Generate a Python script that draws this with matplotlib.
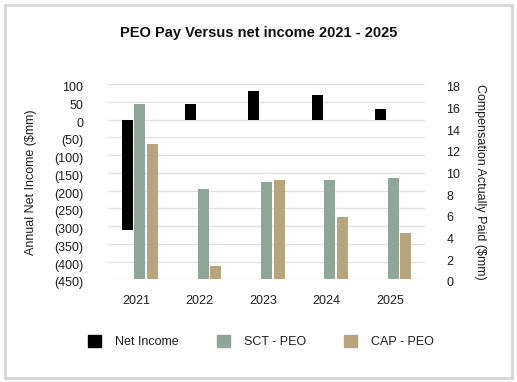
import matplotlib
matplotlib.use("Agg")
import matplotlib.pyplot as plt
import matplotlib.patches as mpatches
from matplotlib.transforms import ScaledTranslation
import numpy as np

plt.rcParams['font.family'] = ['Liberation Sans', 'DejaVu Sans']

years = ["2021", "2022", "2023", "2024", "2025"]
net_income = [-310, 44, 80, 69, 30]
sct_peo = [16.15, 8.3, 9.0, 9.2, 9.35]
cap_peo = [12.5, 1.2, 9.2, 5.75, 4.3]

left_ticks = [100, 50, 0, -50, -100, -150, -200, -250, -300, -350, -400, -450]
left_labels = ["100", "50", "0", "(50)", "(100)", "(150)", "(200)", "(250)",
               "(300)", "(350)", "(400)", "(450)"]
right_ticks = [0, 2, 4, 6, 8, 10, 12, 14, 16, 18]

c_ni = "#000000"
c_sct = "#8fa69b"
c_cap = "#b8a47d"
txt = "#1e1e1e"

fig = plt.figure(figsize=(5.17, 3.82), dpi=100)
ax = fig.add_axes([0.2089, 0.2688, 0.822 - 0.2089, 0.7793 - 0.2688])
ax2 = ax.twinx()

x = np.arange(len(years))
w = 0.173
off = 0.2
ax.bar(x - off, net_income, width=w, color=c_ni, zorder=3)
ax2.bar(x, sct_peo, width=w, color=c_sct, zorder=3)
ax2.bar(x + off, cap_peo, width=w, color=c_cap, zorder=3)

ax.set_xlim(-0.5, 4.5)
ax.set_ylim(-450, 100)
ax2.set_ylim(0, 18)

ax.set_yticks(left_ticks)
ax.set_yticklabels(left_labels)
ax2.set_yticks(right_ticks)
ax2.set_yticklabels([str(t) for t in right_ticks])
ax.set_xticks(x - 0.052)
ax.set_xticklabels(years)

ax.grid(axis='y', color='#e2e2e2', linewidth=1.0)
ax.set_axisbelow(True)
for a in (ax, ax2):
    for s in a.spines.values():
        s.set_visible(False)

ax.tick_params(axis='y', length=0, pad=18, labelsize=9, labelcolor=txt)
ax2.tick_params(axis='y', length=0, pad=15.5, labelsize=9, labelcolor=txt)
ax.tick_params(axis='x', length=0, pad=11, labelsize=9, labelcolor=txt)

offset = ScaledTranslation(0, -0.025, fig.dpi_scale_trans)
for lab in ax.get_yticklabels() + ax2.get_yticklabels():
    lab.set_transform(lab.get_transform() + offset)

ax.set_ylabel("Annual Net Income ($mm)", fontsize=9, color=txt)
ax.yaxis.set_label_coords(-0.225, 0.5)
ax2.set_ylabel("Compensation Actually Paid ($mm)", fontsize=9, color=txt,
               rotation=270, va='center')
ax2.yaxis.set_label_coords(1.1735, 0.5)

fig.text(0.5, 0.9144, "PEO Pay Versus net income 2021 - 2025", ha='center',
         va='center', fontsize=10.5, fontweight='bold', color='#111111')

handles = [mpatches.Patch(color=c_ni, label="Net Income"),
           mpatches.Patch(color=c_sct, label="SCT - PEO"),
           mpatches.Patch(color=c_cap, label="CAP - PEO")]
leg = fig.legend(handles=handles, loc='center', bbox_to_anchor=(0.505, 0.1055),
                 ncol=3, frameon=False, fontsize=9, handlelength=1.05,
                 handleheight=1.05, handletextpad=1.1, columnspacing=3.05,
                 borderpad=0)
for t in leg.get_texts():
    t.set_color(txt)

border = mpatches.Rectangle((5 / 517, 4 / 382), 507 / 517, 373 / 382,
                            transform=fig.transFigure, fill=False,
                            edgecolor='#d6d6d6', linewidth=2)
fig.patches.append(border)

fig.savefig("out.png", dpi=100)
